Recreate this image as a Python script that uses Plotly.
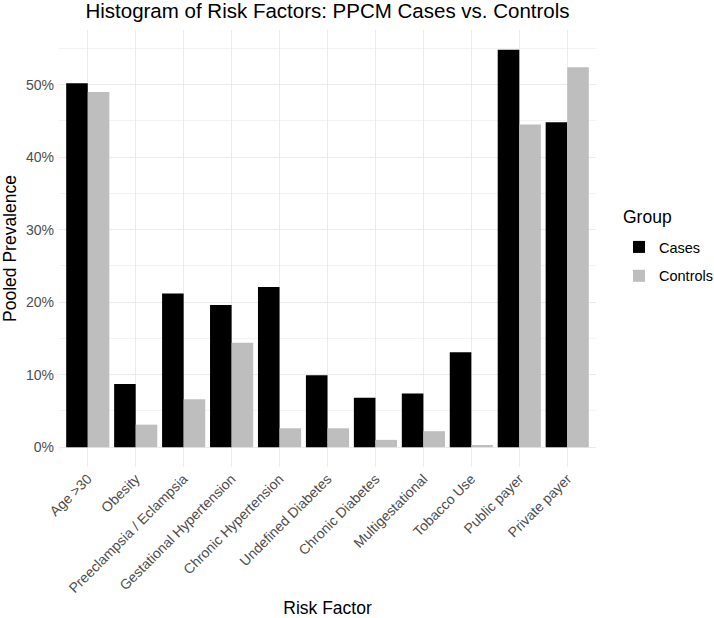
import plotly.graph_objects as go

categories = ["Age >30", "Obesity", "Preeclampsia / Eclampsia", "Gestational Hypertension",
              "Chronic Hypertension", "Undefined Diabetes", "Chronic Diabetes",
              "Multigestational", "Tobacco Use", "Public payer", "Private payer"]
cases = [50.2, 8.7, 21.2, 19.6, 22.1, 9.9, 6.8, 7.4, 13.1, 54.8, 44.8]
controls = [49.0, 3.1, 6.6, 14.4, 2.6, 2.6, 1.0, 2.2, 0.3, 44.5, 52.4]
y_ticks = [0, 10, 20, 30, 40, 50]
y_tick_labels = ["0%", "10%", "20%", "30%", "40%", "50%"]

FONT = "Liberation Sans, Arial, Helvetica, sans-serif"

fig = go.Figure()
fig.add_trace(go.Bar(name="Cases", x=categories, y=cases, legendgroup="a",
                     marker=dict(color="#000000", line=dict(width=0))))
fig.add_trace(go.Bar(name="Controls", x=categories, y=controls, legendgroup="b",
                     marker=dict(color="#BEBEBE", line=dict(width=0))))

ymax = max(max(cases), max(controls))
pad = ymax * 0.05

# plot area in pixels: x 59..596, y 30..467
PW, PH, PB = 537, 437, 467

fig.update_layout(
    width=714, height=618,
    margin=dict(l=59, r=118, t=30, b=151, autoexpand=False),
    paper_bgcolor="white", plot_bgcolor="white",
    barmode="group", bargap=0.1, bargroupgap=0,
    font=dict(family=FONT, color="#000000"),
    title=dict(text="Histogram of Risk Factors: PPCM Cases vs. Controls",
               x=(59 + 596) / 2 / 714, xanchor="center", y=1 - 11 / 618, yanchor="middle",
               font=dict(size=20.5, color="#000000")),
    legend=dict(font=dict(size=14.5, color="#000000"),
                x=(619 - 59) / PW, xanchor="left", y=(PB - 231) / PH, yanchor="top",
                bgcolor="rgba(0,0,0,0)", itemwidth=30, tracegroupgap=7),
    annotations=[dict(text="Group", xref="paper", yref="paper",
                      x=(621 - 59) / PW, y=(PB - 217) / PH, xanchor="left", yanchor="middle",
                      showarrow=False, font=dict(size=17.5, color="#000000"))],
    xaxis=dict(
        title=dict(text="Risk Factor", font=dict(size=17.5, color="#000000"), standoff=8),
        tickangle=-45, tickfont=dict(size=14, color="#4D4D4D"),
        showgrid=True, gridcolor="#EBEBEB", gridwidth=1,
        zeroline=False, showline=False, ticks="",
        range=[-0.6, len(categories) - 0.4],
    ),
    yaxis=dict(
        title=dict(text="Pooled Prevalence", font=dict(size=17.5, color="#000000"), standoff=7),
        tickvals=y_ticks, ticktext=y_tick_labels,
        tickfont=dict(size=14, color="#4D4D4D"),
        range=[-pad, ymax + pad],
        showgrid=True, gridcolor="#EBEBEB", gridwidth=1,
        minor=dict(dtick=5, tick0=5, showgrid=True, gridcolor="#F3F3F3", gridwidth=0.6),
        zeroline=False, showline=False, ticks="", ticklabelstandoff=4,
    ),
)

fig.write_html("out.html")
